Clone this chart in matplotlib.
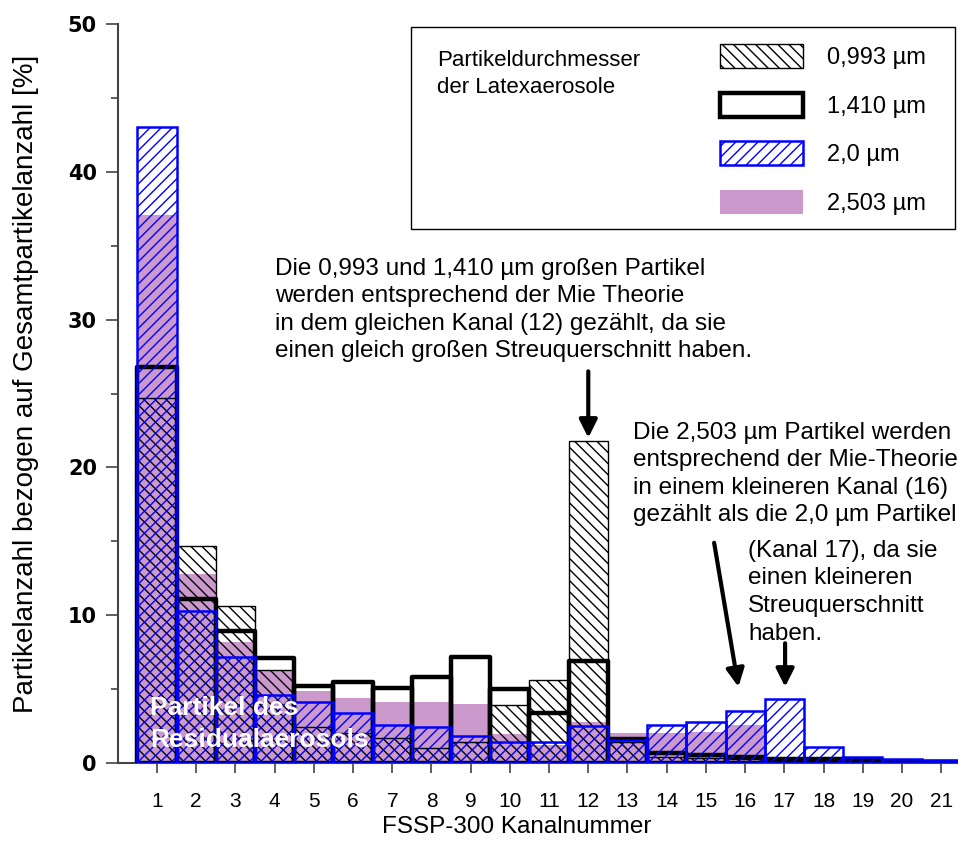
import matplotlib
matplotlib.use("Agg")
import matplotlib.pyplot as plt
import matplotlib.patches as patches

plt.rcParams['font.family'] = ['Liberation Sans', 'DejaVu Sans']

# FSSP-300 channels and particle fractions [%] per latex diameter
channels = list(range(1, 22))
d0993 = [24.7, 14.7, 10.6, 6.3, 2.45, 2.0, 1.7, 1.0, 1.4, 3.9, 5.6, 21.8, 1.4, 0.43, 0.35, 0.3, 0.25, 0.2, 0.15, 0.05, 0.05]
d1410 = [26.8, 11.1, 8.9, 7.1, 5.2, 5.5, 5.1, 5.8, 7.2, 5.0, 3.4, 6.9, 1.6, 0.65, 0.55, 0.4, 0.3, 0.25, 0.2, 0.1, 0.1]
d2000 = [43.0, 10.3, 7.2, 4.6, 4.1, 3.4, 2.6, 2.45, 1.85, 1.4, 1.4, 2.5, 1.55, 2.55, 2.8, 3.5, 4.35, 1.06, 0.43, 0.25, 0.2]
d2503 = [37.1, 12.8, 8.2, 6.2, 4.9, 4.4, 4.1, 4.1, 4.0, 1.96, 1.2, 2.8, 2.0, 2.0, 2.1, 2.6, 0.4, 0.2, 0.1, 0.05, 0.05]
labels = ["0,993 µm", "1,410 µm", "2,0 µm", "2,503 µm"]

PURPLE = "#cc99cc"
W, H = 958, 841

fig = plt.figure(figsize=(W / 100, H / 100), dpi=100)
ax = fig.add_axes([117.8 / W, 78 / H, (W - 117.8) / W, 739 / H])

# bars, drawn back to front
ax.bar(channels, d2503, width=1.0, color=PURPLE, linewidth=0, zorder=1)
ax.bar(channels, d0993, width=1.0, fill=False, hatch='\\\\\\', edgecolor='black', linewidth=1.0, zorder=2)
ax.bar(channels, d1410, width=1.0, fill=False, edgecolor='black', linewidth=3.2, joinstyle='round', zorder=3)
ax.bar(channels, d2000, width=1.0, fill=False, hatch='///', edgecolor='blue', linewidth=1.8, zorder=4)

ax.set_xlim(0, 21.43)
ax.set_ylim(0, 50)
ax.set_xticks(channels)
ax.set_yticks(range(0, 51, 10))
ax.set_yticks(range(5, 50, 10), minor=True)
for s in ['top', 'right']:
    ax.spines[s].set_visible(False)
for s in ['left', 'bottom']:
    ax.spines[s].set_color('#444444')
    ax.spines[s].set_linewidth(1.5)
ax.tick_params(axis='y', which='major', length=9, width=1.2, color='#444444', pad=6)
ax.tick_params(axis='y', which='minor', length=5, width=1.2, color='#444444')
ax.tick_params(axis='x', length=7, width=1.2, color='#444444', pad=14, labelsize=15)
for t in ax.get_yticklabels():
    t.set_family('DejaVu Sans')
    t.set_weight('bold')
    t.set_fontsize(15)

ax.set_xlabel("FSSP-300 Kanalnummer", fontsize=17.5)
ax.xaxis.set_label_coords(0.4745, -0.072)
ax.set_ylabel("Partikelanzahl bezogen auf Gesamtpartikelanzahl [%]", fontsize=20)
ax.yaxis.set_label_coords(-0.094, 0.513)

# annotations
ax.text(4.0, 34.2, "Die 0,993 und 1,410 µm großen Partikel\nwerden entsprechend der Mie Theorie\n"
        "in dem gleichen Kanal (12) gezählt, da sie\neinen gleich großen Streuquerschnitt haben.",
        fontsize=17.5, va='top', ha='left', linespacing=1.33)
ax.text(13.14, 23.1, "Die 2,503 µm Partikel werden\nentsprechend der Mie-Theorie\n"
        "in einem kleineren Kanal (16)\ngezählt als die 2,0 µm Partikel",
        fontsize=17.5, va='top', ha='left', linespacing=1.33)
ax.text(16.08, 15.1, "(Kanal 17), da sie\neinen kleineren\nStreuquerschnitt\nhaben.",
        fontsize=17.5, va='top', ha='left', linespacing=1.33)
ax.text(0.82, 2.65, "Partikel des\nResidualaerosols", color='white', fontweight='bold',
        fontsize=19, va='center', ha='left', linespacing=1.4, zorder=6)

arrow = dict(arrowstyle='-|>,head_length=0.4,head_width=0.2', lw=3, color='black',
             mutation_scale=27, shrinkA=0, shrinkB=0)
ax.annotate('', xy=(12.0, 22.0), xytext=(12.0, 26.5), arrowprops=arrow, zorder=7)
ax.annotate('', xy=(15.83, 5.15), xytext=(15.21, 14.9), arrowprops=arrow, zorder=7)
ax.annotate('', xy=(17.02, 5.15), xytext=(17.02, 8.1), arrowprops=arrow, zorder=7)

# legend box
fig.patches.append(patches.Rectangle((411 / W, 1 - 229 / H), (955 - 411) / W, 202 / H,
                                     transform=fig.transFigure, fill=False,
                                     edgecolor='black', linewidth=1.0))
fig.text(437 / W, 1 - 50 / H, "Partikeldurchmesser\nder Latexaerosole", fontsize=16,
         va='top', ha='left', linespacing=1.35)
handles = [
    patches.Patch(fill=False, hatch='\\\\\\', edgecolor='black', linewidth=1.0),
    patches.Patch(fill=False, edgecolor='black', linewidth=3.2, joinstyle='round'),
    patches.Patch(fill=False, hatch='///', edgecolor='blue', linewidth=1.8),
    patches.Patch(facecolor=PURPLE, edgecolor='none'),
]
fig.legend(handles, labels, loc='upper left', bbox_to_anchor=(720 / W, 1 - 44 / H),
           bbox_transform=fig.transFigure, frameon=False, fontsize=17,
           handlelength=3.5, handleheight=1.19, labelspacing=1.0, handletextpad=1.05,
           borderpad=0, borderaxespad=0)

fig.savefig("out.png", dpi=100)
